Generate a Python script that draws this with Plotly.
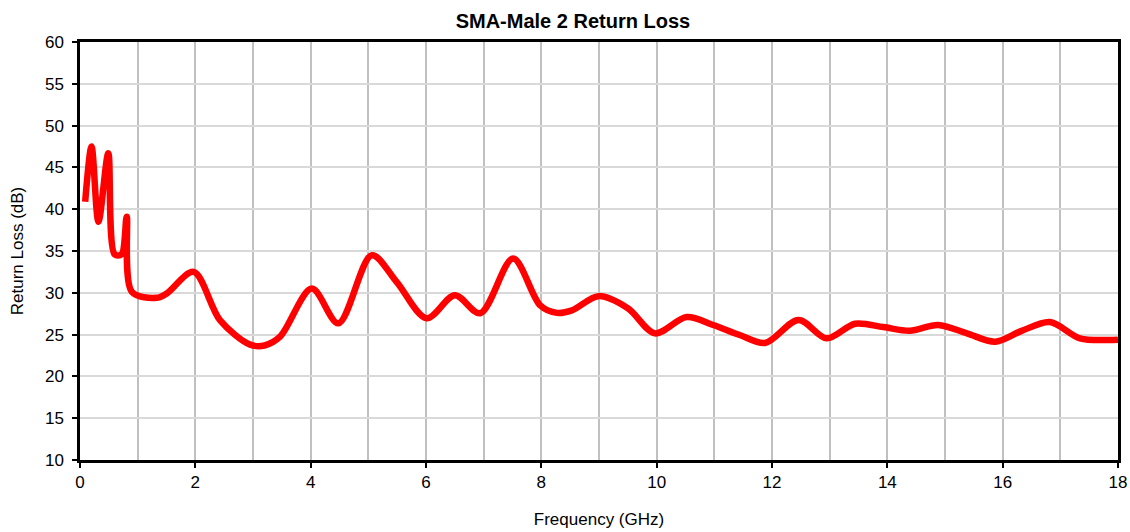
import plotly.graph_objects as go

freq_ghz = [0.09, 0.2, 0.32, 0.49, 0.6, 0.72, 0.81, 0.9, 1.33, 1.5, 1.97, 2.43, 2.95, 3.2, 3.47,
            4.02, 4.48, 5.06, 5.49, 6.01, 6.5, 6.94, 7.51, 7.98, 8.27, 8.53, 8.99, 9.5, 9.97,
            10.52, 10.98, 11.44, 11.88, 12.46, 12.95, 13.44, 13.93, 14.39, 14.88, 15.38, 15.87,
            16.33, 16.82, 17.34, 17.83, 18.0]
return_loss_db = [40.9, 47.5, 38.5, 46.7, 34.6, 34.6, 39.1, 30.1, 29.4, 29.9, 32.5, 26.7, 23.8, 23.7, 24.75,
                  30.5, 26.35, 34.5, 31.3, 26.95, 29.7, 27.55, 34.1, 28.5, 27.6, 27.9, 29.6, 28.15, 25.15,
                  27.1, 26.15, 24.95, 24.0, 26.75, 24.55, 26.3, 25.9, 25.45, 26.15, 25.15, 24.15,
                  25.45, 26.5, 24.55, 24.35, 24.4]

x_tick_vals = [0, 2, 4, 6, 8, 10, 12, 14, 16, 18]
y_tick_vals = [10, 15, 20, 25, 30, 35, 40, 45, 50, 55, 60]

font_family = "Arial, Liberation Sans, sans-serif"

fig = go.Figure()
fig.add_trace(go.Scatter(
    x=freq_ghz, y=return_loss_db, mode="lines",
    line=dict(color="#ff0000", width=6.5, shape="spline", smoothing=0.9),
    showlegend=False, hoverinfo="x+y"))

fig.update_layout(
    width=1130, height=532,
    margin=dict(l=80, r=12, t=42, b=72, autoexpand=False),
    paper_bgcolor="white", plot_bgcolor="white",
    font=dict(family=font_family, color="black", size=17),
    title=dict(text="<b>SMA-Male 2 Return Loss</b>", x=0.507, xanchor="center",
               y=0.9596, yanchor="middle", font=dict(size=20, family=font_family)),
    xaxis=dict(
        range=[0, 18], tickvals=x_tick_vals, ticks="outside", ticklen=5, tickwidth=2,
        tickcolor="black", showgrid=True, gridcolor="#c0c0c0", gridwidth=1.5,
        minor=dict(dtick=1, showgrid=True, gridcolor="#c0c0c0", gridwidth=1.5, ticks=""),
        showline=True, mirror=True, linecolor="black", linewidth=2.5,
        tickfont=dict(size=17), zeroline=False, automargin=False,
        title=dict(text="Frequency (GHz)", font=dict(size=17), standoff=22)),
    yaxis=dict(
        range=[10, 60], tickvals=y_tick_vals, ticks="outside", ticklen=5, tickwidth=2,
        tickcolor="black", showgrid=True, gridcolor="#d9d9d9", gridwidth=1.5,
        showline=True, mirror=True, linecolor="black", linewidth=2.5,
        tickfont=dict(size=17), zeroline=False, ticklabelstandoff=5, automargin=False,
        title=dict(text="Return Loss (dB)", font=dict(size=17), standoff=17)),
)

fig.write_html("out.html", config={"displayModeBar": False},
               post_script="document.body.style.margin='0';")
